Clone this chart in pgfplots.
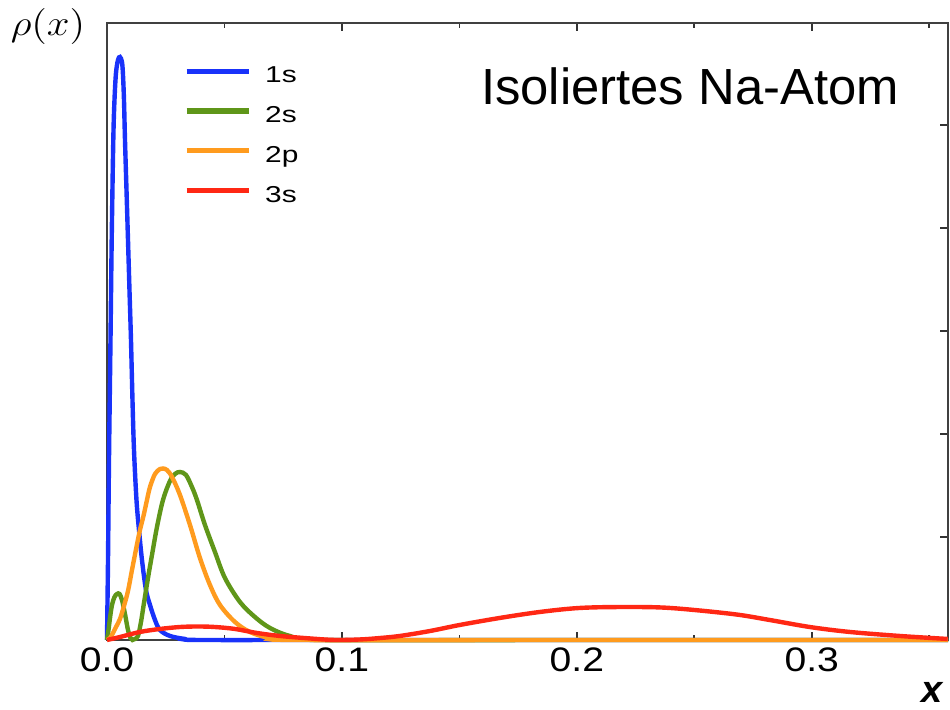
\documentclass[border=0pt]{standalone}
\usepackage{graphicx}
\usepackage{fontspec}
\setmainfont{Liberation Sans}
\usepackage{pgfplots}
\pgfplotsset{compat=1.18}
\definecolor{c1s}{RGB}{25,50,250}
\definecolor{c2s}{RGB}{95,150,25}
\definecolor{c2p}{RGB}{255,155,30}
\definecolor{c3s}{RGB}{255,40,20}
\newcommand{\tkl}[1]{\scalebox{1.15}[1]{#1}}
\newcommand{\lgent}[1]{\hspace*{7pt}\scalebox{1.3}[1]{#1}}
\begin{document}
\begin{tikzpicture}
\useasboundingbox (-53.5pt,-35pt) rectangle (421.5pt,320pt);
\begin{axis}[
  at={(0pt,0pt)}, anchor=south west,
  scale only axis, width=420.5pt, height=308.5pt,
  xmin=0, xmax=0.358, ymin=0, ymax=5.99,
  clip=false,
  axis line style={black!75, line width=1pt},
  xtick={0,0.1,0.2,0.3},
  xticklabels={\tkl{0.0},\tkl{0.1},\tkl{0.2},\tkl{0.3}},
  minor xtick={0.05,0.15,0.25,0.35},
  xtick pos=both,
  ytick={1,2,3,4,5}, yticklabels={}, ytick pos=right,
  tick align=inside,
  major tick length=4pt, minor tick length=2.5pt,
  tick style={black!80, line width=0.8pt},
  xticklabel style={font=\fontsize{17}{19}\selectfont, yshift=-0.5pt},
  every axis x label/.style={at={(rel axis cs:0.981,-0.1021)}, anchor=base},
  every axis y label/.style={at={(rel axis cs:-0.0702,0.9805)}, anchor=base},
  xlabel={\fontsize{19}{22}\selectfont\bfseries\itshape x},
  ylabel={\fontsize{12}{14}\selectfont\scalebox{1.7}[1.5]{$\rho(x)$}},
  legend style={draw=none, fill=none, at={(rel axis cs:0.0915,0.9284)}, anchor=north west,
    inner sep=0pt, outer sep=0pt, row sep=11.95pt,
    font=\fontsize{11.5}{13}\selectfont,
    nodes={inner sep=0pt, text height=7.9pt, text depth=0pt}},
  legend cell align=left,
  legend image code/.code={\draw[#1, line width=2.6pt] (0pt,1.9pt) -- (31pt,1.9pt);},
  every axis plot/.append style={line width=2.2pt, smooth, tension=0.55},
]
\addplot[c1s] coordinates {
(0,0) (0.00043,0.777) (0.00085,1.748) (0.00149,2.913) (0.0020,3.883) (0.00268,4.854)
(0.00319,5.243) (0.00383,5.505) (0.00468,5.631) (0.00553,5.660) (0.00638,5.612)
(0.00681,5.485) (0.00723,5.243) (0.00766,4.854) (0.00830,4.369) (0.00894,3.883)
(0.00957,3.398) (0.01021,2.913) (0.01085,2.330) (0.01149,1.845) (0.01255,1.359)
(0.01362,1.068) (0.01489,0.777) (0.01660,0.485) (0.01830,0.340) (0.02043,0.194)
(0.02255,0.097) (0.02681,0.039) (0.03319,0.010) (0.03957,0) (0.1,0) (0.2,0) (0.358,0)};
\addlegendentry{\lgent{1s}}
\addplot[c2s] coordinates {
(0,0) (0.00064,0.097) (0.00128,0.214) (0.00213,0.340) (0.00319,0.417) (0.00426,0.447)
(0.00532,0.447) (0.00638,0.388) (0.00766,0.252) (0.00894,0.097) (0.0100,0.019)
(0.01085,0) (0.01191,0.010) (0.01319,0.039) (0.01447,0.175) (0.01574,0.359)
(0.01745,0.602) (0.01915,0.825) (0.02128,1.097) (0.02383,1.359) (0.02681,1.544)
(0.02894,1.612) (0.03106,1.631) (0.03362,1.602) (0.03617,1.485) (0.03830,1.359)
(0.04170,1.117) (0.04596,0.854) (0.05021,0.602) (0.05660,0.369) (0.06298,0.223)
(0.06936,0.117) (0.07787,0.039) (0.09064,0) (0.2,0) (0.358,0)};
\addlegendentry{\lgent{2s}}
\addplot[c2p] coordinates {
(0,0) (0.00128,0.019) (0.00255,0.068) (0.00383,0.126) (0.00553,0.204) (0.00723,0.330)
(0.00894,0.476) (0.01064,0.680) (0.01255,0.903) (0.01404,1.068) (0.01553,1.204)
(0.01702,1.359) (0.01830,1.485) (0.02043,1.612) (0.02255,1.660) (0.02383,1.665)
(0.02553,1.650) (0.02766,1.583) (0.03106,1.408) (0.03532,1.117) (0.03957,0.796)
(0.04383,0.534) (0.04809,0.340) (0.05447,0.175) (0.06085,0.078) (0.06936,0.019)
(0.08213,0) (0.2,0) (0.358,0)};
\addlegendentry{\lgent{2p}}
\addplot[c3s] coordinates {
(0,0) (0.00553,0.029) (0.01404,0.078) (0.02255,0.107) (0.03106,0.126) (0.03872,0.131)
(0.04596,0.126) (0.05447,0.107) (0.06383,0.068) (0.07362,0.039) (0.08638,0.015)
(0.09702,0) (0.10766,0.005) (0.11617,0.019) (0.12468,0.039) (0.13745,0.087)
(0.15021,0.146) (0.16723,0.214) (0.18426,0.272) (0.20128,0.311) (0.22043,0.320)
(0.23957,0.311) (0.26638,0.252) (0.28213,0.194) (0.29915,0.126) (0.31617,0.078)
(0.33745,0.039) (0.35787,0.010)};
\addlegendentry{\lgent{3s}}
\node[anchor=base west, font=\fontsize{25.4}{30}\selectfont] at (rel axis cs:0.4364,0.8671) {Isoliertes Na-Atom};
\end{axis}
\end{tikzpicture}
\end{document}
